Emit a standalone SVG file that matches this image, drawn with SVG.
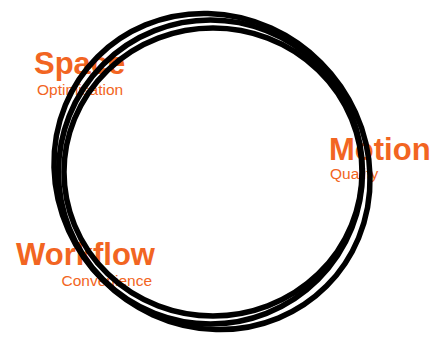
<svg xmlns="http://www.w3.org/2000/svg" width="434" height="337" viewBox="0 0 434 337">
<style>
.t{font-family:"Liberation Sans",Arial,sans-serif;fill:#F26522}
.h{font-weight:bold;font-size:31px}
.s{font-size:15.5px}
.ring{fill:none;stroke:#000;stroke-width:5.5}
</style>
<rect width="434" height="337" fill="#fff"/>
<g id="space">
<text class="t h" x="34" y="74">Space</text>
<text class="t s" x="37" y="95">Optimisation</text>
</g>
<g id="motion">
<text class="t h" x="329" y="160">Motion</text>
<text class="t s" x="330" y="179">Quality</text>
</g>
<g id="workflow">
<text class="t h" x="155" y="265" text-anchor="end">Workflow</text>
<text class="t s" x="152" y="286" text-anchor="end">Convenience</text>
</g>
<g id="connectors">
<ellipse class="ring" cx="212" cy="171.5" rx="162" ry="154" transform="rotate(45 212 171.5)"/>
<ellipse class="ring" cx="210.5" cy="172" rx="152" ry="152"/>
<ellipse class="ring" cx="213" cy="172" rx="149" ry="144"/>
</g>
</svg>
